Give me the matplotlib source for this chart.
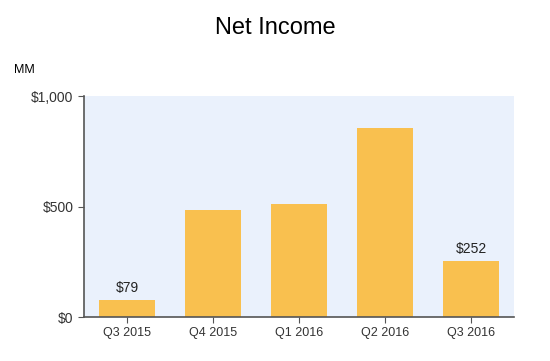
import numpy as np
import matplotlib.pyplot as plt

plt.rcParams["font.family"] = ["Liberation Sans", "DejaVu Sans"]

quarters = ["Q3 2015", "Q4 2015", "Q1 2016", "Q2 2016", "Q3 2016"]
net_income = [79, 482, 513, 857, 252]
labeled = {0: "$79", 4: "$252"}
y_ticks = [0, 500, 1000]
y_labels = ["$0", "$500", "$1,000"]

fig = plt.figure(figsize=(5.5, 3.61), dpi=100)
ax = fig.add_axes([84 / 550, 1 - 317 / 361, 430 / 550, 221 / 361])
ax.set_facecolor("#eaf1fc")

x = np.arange(len(quarters))
ax.bar(x, net_income, width=0.65, color="#f9c04f", zorder=2)
for i, txt in labeled.items():
    ax.text(x[i], net_income[i] + 22, txt, ha="center", va="bottom",
            fontsize=10, color="#222222")

ax.set_xlim(-0.5, len(quarters) - 0.5)
ax.set_ylim(0, 1000)
ax.set_xticks(x)
ax.set_xticklabels(quarters, fontsize=9, color="#333333")
ax.set_yticks(y_ticks)
ax.set_yticklabels(y_labels, fontsize=10, color="#333333")
ax.tick_params(axis="both", length=4, color="#555555")
for s in ["top", "right"]:
    ax.spines[s].set_visible(False)
for s in ["left", "bottom"]:
    ax.spines[s].set_color("#555555")
    ax.spines[s].set_linewidth(1.2)

fig.text(0.5, 1 - 28 / 361, "Net Income", ha="center", va="center", fontsize=17)
fig.text(14 / 550, 1 - 70 / 361, "MM", ha="left", va="center", fontsize=9)

fig.savefig("out.png", dpi=100)
